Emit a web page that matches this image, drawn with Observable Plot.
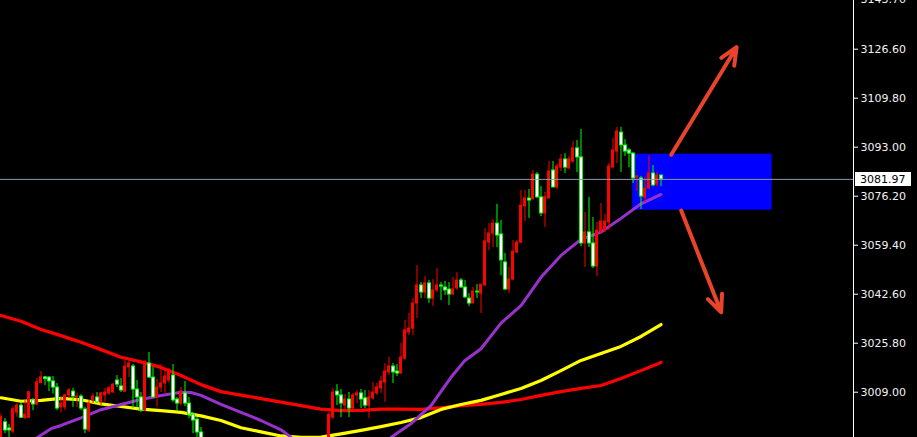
<!DOCTYPE html>
<html>
<head>
<meta charset="utf-8">
<script src="https://cdn.jsdelivr.net/npm/d3@7"></script>
<script src="https://cdn.jsdelivr.net/npm/@observablehq/plot@0.6"></script>
<style>
  html, body { margin: 0; padding: 0; background: #000; overflow: hidden; }
  #chart svg { display: block; overflow: hidden; }
</style>
</head>
<body>
<div id="chart"></div>
<script>
// Price bars. The first run starts at bar 0, the second resumes at bar 82
// (bars in between trade below the visible price range).
const runStarts = [0, 82];
const runLengths = [51, 84];

const opens = [
  2992.4, 2998.7, 2996.6, 2995.5, 3002.0, 3004.4, 3000.2, 3000.2, 3006.2, 3004.8,
  3012.1, 3014.1, 3014.0, 3012.7, 3010.6, 3003.8, 3003.8, 3007.9, 3009.2, 3007.2,
  3007.5, 3003.1, 2995.9, 3006.2, 3007.2, 3005.5, 3007.9, 3008.6, 3008.9, 3013.0,
  3011.0, 3009.2, 3017.5, 3017.8, 3009.9, 3007.2, 3002.7, 3018.8, 3014.0, 3007.2,
  3010.6, 3012.0, 3013.0, 3014.7, 3006.5, 3005.1, 3008.6, 3005.1, 3001.3, 2999.6,
  2995.2,
  2991.7, 3000.3, 3009.2, 3007.9, 3004.4, 3006.5, 3003.4, 3007.9, 3008.6, 3006.9,
  3004.4, 3006.9, 3008.6, 3010.3, 3012.3, 3015.8, 3017.8, 3016.1, 3015.4, 3020.5,
  3029.5, 3030.8, 3039.4, 3045.6, 3043.2, 3046.3, 3041.1, 3043.9, 3045.6, 3044.9,
  3044.2, 3042.5, 3044.6, 3047.3, 3044.9, 3041.1, 3039.4, 3043.5, 3042.8, 3045.6,
  3060.3, 3063.4, 3066.8, 3063.1, 3053.5, 3044.2, 3047.6, 3056.9, 3060.3, 3072.7,
  3075.4, 3075.1, 3083.6, 3075.8, 3070.3, 3075.4, 3085.0, 3079.2, 3086.0, 3088.8,
  3085.7, 3088.1, 3092.6, 3089.5, 3060.0, 3063.8, 3060.0, 3052.1, 3063.8, 3064.4,
  3067.2, 3086.0, 3091.5, 3098.0, 3093.6, 3091.9, 3090.8, 3082.6, 3082.3, 3075.8,
  3078.8, 3084.0, 3080.2, 3083.3
];
const highs = [
  3001.4, 3000.0, 2998.0, 3003.9, 3005.2, 3005.6, 3006.2, 3009.2, 3006.9, 3013.7,
  3016.1, 3014.4, 3014.4, 3014.4, 3012.0, 3007.2, 3008.2, 3010.3, 3010.3, 3008.6,
  3008.2, 3003.8, 3006.2, 3008.6, 3008.9, 3008.9, 3010.3, 3011.0, 3012.0, 3014.7,
  3013.7, 3019.9, 3020.2, 3018.5, 3013.0, 3008.9, 3019.9, 3022.6, 3017.5, 3013.4,
  3018.5, 3016.8, 3017.1, 3018.5, 3007.2, 3010.6, 3012.7, 3007.2, 3002.0, 3000.3,
  2996.9,
  3002.0, 3010.3, 3011.6, 3009.9, 3008.2, 3008.9, 3008.6, 3009.6, 3009.9, 3009.6,
  3009.6, 3012.3, 3012.0, 3014.4, 3018.8, 3020.9, 3018.8, 3018.5, 3025.7, 3033.6,
  3036.0, 3041.1, 3052.4, 3046.6, 3048.7, 3047.3, 3047.6, 3051.4, 3046.6, 3047.0,
  3046.6, 3048.3, 3050.0, 3048.0, 3047.3, 3042.8, 3044.9, 3045.9, 3045.9, 3065.1,
  3066.8, 3068.2, 3073.4, 3067.9, 3056.6, 3051.8, 3061.0, 3061.0, 3078.2, 3078.2,
  3078.5, 3085.0, 3084.3, 3079.5, 3077.5, 3088.1, 3088.1, 3087.1, 3090.5, 3090.8,
  3089.8, 3094.9, 3095.3, 3099.1, 3070.6, 3075.8, 3068.9, 3067.2, 3073.7, 3069.9,
  3087.4, 3096.0, 3099.8, 3099.8, 3095.6, 3092.6, 3091.2, 3083.3, 3083.0, 3082.6,
  3090.1, 3086.7, 3084.3, 3083.3
];
const lows = [
  2991.7, 2994.8, 2993.5, 2994.8, 3000.4, 3000.0, 2999.6, 3000.0, 3002.7, 3004.4,
  3012.0, 3011.3, 3009.2, 3008.4, 3002.7, 3002.0, 3002.7, 3006.9, 3003.8, 3003.8,
  3002.7, 2994.8, 2995.2, 3005.1, 3005.1, 3004.4, 3005.5, 3007.9, 3008.6, 3010.6,
  3008.9, 3008.9, 3014.0, 3003.4, 3003.8, 3002.0, 3002.4, 3013.7, 3006.9, 3003.8,
  3008.9, 3008.6, 3012.0, 3005.5, 3002.7, 3004.4, 3004.1, 3000.0, 2994.8, 2993.5,
  2991.7,
  2990.7, 2999.6, 3004.4, 3000.3, 3002.0, 3000.3, 3002.7, 3005.1, 3003.4, 3003.4,
  3000.0, 3006.2, 3007.9, 3008.6, 3005.5, 3014.7, 3012.0, 3014.4, 3015.1, 3019.9,
  3028.4, 3028.4, 3034.3, 3041.1, 3041.1, 3039.4, 3038.4, 3043.2, 3040.4, 3042.2,
  3038.7, 3042.2, 3043.9, 3044.6, 3041.1, 3038.4, 3039.4, 3041.1, 3036.0, 3045.2,
  3057.6, 3058.6, 3058.6, 3049.0, 3043.9, 3042.8, 3047.3, 3056.6, 3060.0, 3067.5,
  3068.6, 3075.1, 3075.4, 3069.2, 3065.5, 3075.4, 3079.2, 3078.5, 3084.7, 3084.0,
  3085.4, 3087.4, 3084.3, 3058.9, 3051.8, 3058.6, 3051.4, 3048.7, 3063.4, 3063.8,
  3064.4, 3086.0, 3087.4, 3084.3, 3089.8, 3086.0, 3080.6, 3077.8, 3071.6, 3074.0,
  3078.5, 3079.5, 3079.5, 3079.5
];
const closes = [
  3000.4, 2995.9, 2995.9, 3003.1, 3004.4, 3000.2, 3001.3, 3009.0, 3004.8, 3012.4,
  3014.1, 3013.5, 3012.7, 3010.6, 3003.4, 3005.1, 3007.9, 3009.6, 3007.5, 3007.5,
  3003.4, 2996.2, 3005.1, 3007.5, 3005.5, 3008.6, 3008.9, 3010.3, 3011.6, 3011.6,
  3009.6, 3017.8, 3018.8, 3009.9, 3007.2, 3002.7, 3019.2, 3014.0, 3007.2, 3010.6,
  3012.0, 3014.4, 3015.8, 3006.2, 3005.1, 3009.2, 3005.1, 3001.3, 2999.3, 2995.2,
  2992.4,
  3001.3, 3008.9, 3007.9, 3005.1, 3006.5, 3003.4, 3007.9, 3008.6, 3006.5, 3004.4,
  3007.2, 3008.9, 3010.6, 3012.7, 3016.1, 3017.8, 3015.8, 3015.4, 3020.9, 3030.2,
  3030.8, 3039.4, 3045.6, 3043.2, 3046.3, 3041.1, 3043.9, 3045.6, 3045.2, 3043.9,
  3042.5, 3044.2, 3047.3, 3044.9, 3041.5, 3039.4, 3043.5, 3043.2, 3045.9, 3060.7,
  3063.4, 3066.8, 3062.7, 3054.2, 3044.2, 3047.6, 3057.2, 3060.3, 3073.0, 3075.4,
  3074.7, 3083.6, 3075.8, 3070.3, 3075.8, 3084.7, 3079.2, 3086.4, 3088.8, 3086.0,
  3088.8, 3092.6, 3089.5, 3060.0, 3063.8, 3060.0, 3052.1, 3064.4, 3067.5, 3067.5,
  3086.4, 3091.9, 3098.4, 3093.6, 3091.5, 3090.8, 3082.3, 3083.0, 3076.1, 3078.8,
  3084.0, 3079.9, 3083.3, 3081.97
];

// Moving averages, read every 5 bars
const maBars = [
  0, 5, 10, 15, 20, 25, 30, 35, 40, 45, 50, 55, 60, 65, 70, 75, 80,
  85, 90, 95, 100, 105, 110, 115, 120, 125, 130, 135, 140, 145, 150, 155, 160, 165
];
const maSlow = [
  3035.3, 3033.3, 3030.5, 3028.4, 3026.1, 3023.6, 3021.0, 3019.4, 3017.5, 3014.7,
  3011.6, 3009.2, 3008.0, 3006.8, 3005.6, 3004.4, 3003.2, 3002.7, 3002.8, 3003.2,
  3003.2, 3003.1, 3003.6, 3004.4, 3004.8, 3005.5, 3006.5, 3007.9, 3009.2, 3010.3,
  3011.3, 3013.7, 3016.4, 3019.2
];
const maMid = [
  3007.1, 3005.9, 3006.2, 3006.9, 3006.4, 3005.0, 3004.1, 3003.2, 3002.7, 3002.1,
  3000.9, 2999.3, 2996.8, 2995.4, 2994.0, 2993.5, 2993.6, 2994.7, 2995.9, 2997.2,
  2998.6, 3000.3, 3003.1, 3004.8, 3006.2, 3008.2, 3010.3, 3013.0, 3016.4, 3019.9,
  3022.3, 3024.7, 3028.1, 3032.2
];
// Fast average: drops below the price range between bars 73 and 97
const maFastBars = [
  9, 12.5, 15, 20, 25, 30, 35, 40, 45, 47.5, 50, 55, 60, 65, 70, 72.5,
  85,
  97.5, 100, 102.5, 107.5, 112.5, 116, 120, 125, 130, 135, 140, 145, 150, 155, 160, 165
];
const maFast = [
  2993.4, 2996.5, 2997.6, 3000.2, 3003.0, 3004.8, 3006.5, 3007.9, 3009.0, 3008.9,
  3007.9, 3004.8, 3002.1, 2999.3, 2996.1, 2993.6,
  null,
  2993.5, 2995.9, 2998.2, 3004.4, 3014.1, 3019.9, 3023.9, 3032.7, 3038.7, 3048.4,
  3055.9, 3061.4, 3063.9, 3068.6, 3073.6, 3076.8
];

// Target zone and the two scenario arrows
const zoneBars = [157.9, 192.8];
const zonePrices = [3071.4, 3090.6];
const arrowFromBar = [167.55, 170.05];
const arrowFromPrice = [3090.4, 3071.3];
const arrowToBar = [183.9, 180.05];
const arrowToPrice = [3127.3, 3036.4];

// Price axis
const priceTicks = [2992.20, 3009.00, 3025.80, 3042.60, 3059.40, 3076.20, 3093.00, 3109.80, 3126.60, 3143.70];
const lastPrice = 3081.97;

const xDomain = [-0.125, 213.125];
const yDomain = [2993.47, 3143.30];

const bars = [];
let n = 0;
runStarts.forEach((start, r) => {
  for (let j = 0; j < runLengths[r]; j++, n++) {
    bars.push({bar: start + j, open: opens[n], high: highs[n], low: lows[n], close: closes[n]});
  }
});
const upBars = bars.filter(d => d.close >= d.open);
const downBars = bars.filter(d => d.close < d.open);

const slow = maBars.map((b, i) => ({bar: b, value: maSlow[i]}));
const mid = maBars.map((b, i) => ({bar: b, value: maMid[i]}));
const fast = maFastBars.map((b, i) => ({bar: b, value: maFast[i]}));
const arrows = arrowFromBar.map((b, i) => ({
  x1: b, y1: arrowFromPrice[i], x2: arrowToBar[i], y2: arrowToPrice[i]
}));

const RED = "#ff0000", GREEN = "#00ff00";

const chart = Plot.plot({
  width: 917,
  height: 437,
  marginLeft: 0,
  marginRight: 64,
  marginTop: 0,
  marginBottom: 0,
  style: {background: "#000", color: "#fff", fontFamily: "'DejaVu Sans', sans-serif", fontSize: "11px"},
  x: {domain: xDomain, axis: null},
  y: {domain: yDomain, axis: null},
  marks: [
    Plot.rect([0], {x1: () => zoneBars[0], x2: () => zoneBars[1], y1: () => zonePrices[0], y2: () => zonePrices[1], fill: "#0000ff", clip: true}),
    Plot.line(slow, {x: "bar", y: "value", stroke: RED, strokeWidth: 3.2, clip: true}),
    Plot.line(mid, {x: "bar", y: "value", stroke: "#ffff00", strokeWidth: 3.2, clip: true}),
    Plot.line(fast, {x: "bar", y: "value", stroke: "#9932cc", strokeWidth: 3, clip: true}),
    // wicks
    Plot.ruleX(upBars, {x: "bar", y1: "low", y2: "high", stroke: RED, strokeWidth: 1, clip: true}),
    Plot.ruleX(downBars, {x: "bar", y1: "low", y2: "high", stroke: GREEN, strokeWidth: 1, clip: true}),
    // bodies
    Plot.rect(upBars, {x1: d => d.bar - 0.375, x2: d => d.bar + 0.375, y1: "open", y2: "close",
      fill: RED, insetTop: -0.5, insetBottom: -0.5, clip: true}),
    Plot.rect(downBars, {x1: d => d.bar - 0.375, x2: d => d.bar + 0.625, y1: "open", y2: "close",
      fill: GREEN, insetTop: -0.5, insetBottom: -0.5, clip: true}),
    Plot.rect(downBars, {x1: d => d.bar - 0.125, x2: d => d.bar + 0.375, y1: "open", y2: "close",
      fill: "#ffffff", insetTop: 0.5, insetBottom: 0.5, clip: true}),
    Plot.ruleY([lastPrice], {stroke: "#8d9bab", strokeWidth: 1}),
    Plot.arrow(arrows, {x1: "x1", y1: "y1", x2: "x2", y2: "y2", stroke: "#e8442b", strokeWidth: 4,
      headLength: 7, headAngle: 48, clip: true}),
    Plot.ruleX([xDomain[1]], {stroke: "#ffffff", strokeWidth: 1}),
    Plot.axisY(priceTicks, {anchor: "right", tickSize: 4, tickPadding: 3,
      tickFormat: d => d.toFixed(2), stroke: "#ffffff", fill: "#f2f2f2", fontSize: 11})
  ]
});

document.getElementById("chart").appendChild(chart);

// Last price tag on the price axis
const yScale = chart.scale("y");
const ty = yScale.apply(lastPrice);
const svg = d3.select(chart);
const tag = svg.append("g").attr("text-anchor", "start");
tag.append("rect").attr("x", 855).attr("y", Math.round(ty) - 7).attr("width", 56).attr("height", 14).attr("fill", "#ffffff");
tag.append("text").attr("x", 860).attr("y", ty).attr("dy", "0.36em")
  .attr("fill", "#000").attr("font-size", 11).attr("font-family", "'DejaVu Sans', sans-serif")
  .text(lastPrice.toFixed(2));
</script>
</body>
</html>
